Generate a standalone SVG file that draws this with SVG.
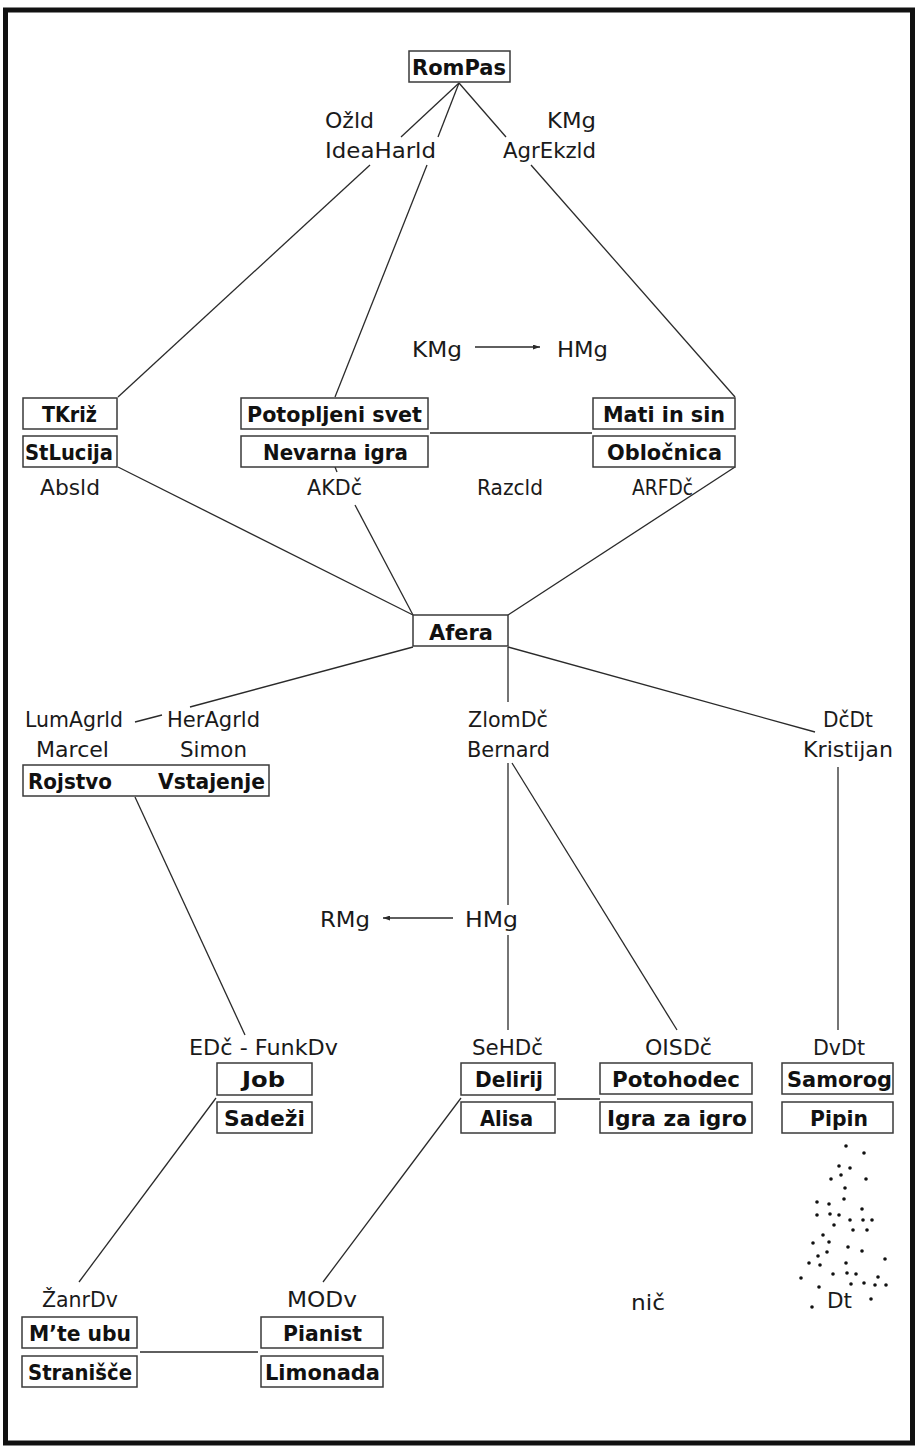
<svg xmlns="http://www.w3.org/2000/svg" width="917" height="1446" viewBox="0 0 917 1446">
<defs>
<style>
.frame{fill:#fff;stroke:#111;stroke-width:5}
.box{fill:#fff;stroke:#3a3a3a;stroke-width:1.5}
.b{font-family:"DejaVu Sans",sans-serif;font-weight:bold;font-size:22px;fill:#111}
.r{font-family:"DejaVu Sans",sans-serif;font-size:22px;fill:#1a1a1a}
.ln{stroke:#2a2a2a;stroke-width:1.3;fill:none}
.dot{fill:#111}
</style>
<marker id="ah" markerWidth="7" markerHeight="5" refX="7" refY="2.5" orient="auto" markerUnits="userSpaceOnUse">
<path d="M0,0 L7,2.5 L0,5 z" fill="#2a2a2a"/>
</marker>
</defs>
<rect class="frame" x="5.5" y="10" width="907" height="1433"/>

<g id="connectors">
<line class="ln" x1="459" y1="83" x2="401" y2="137"/>
<line class="ln" x1="370" y1="165" x2="118" y2="397"/>
<line class="ln" x1="459" y1="83" x2="438" y2="137"/>
<line class="ln" x1="427" y1="165" x2="335" y2="397"/>
<line class="ln" x1="459" y1="83" x2="506" y2="137"/>
<line class="ln" x1="531" y1="165" x2="735" y2="397"/>
<line class="ln" x1="430" y1="433" x2="592" y2="433"/>
<line class="ln" x1="118" y1="467" x2="413" y2="615"/>
<line class="ln" x1="335" y1="467" x2="337" y2="472"/>
<line class="ln" x1="355" y1="505" x2="413" y2="615"/>
<line class="ln" x1="735" y1="467" x2="508" y2="615"/>
<line class="ln" x1="475" y1="347" x2="540" y2="347" marker-end="url(#ah)"/>
<line class="ln" x1="413" y1="647" x2="190" y2="707"/>
<line class="ln" x1="162" y1="715" x2="135" y2="722"/>
<line class="ln" x1="508" y1="647" x2="508" y2="702"/>
<line class="ln" x1="508" y1="647" x2="815" y2="732"/>
<line class="ln" x1="135" y1="797" x2="245" y2="1035"/>
<line class="ln" x1="508" y1="763" x2="508" y2="905"/>
<line class="ln" x1="508" y1="935" x2="508" y2="1030"/>
<line class="ln" x1="453" y1="918" x2="383" y2="918" marker-end="url(#ah)"/>
<line class="ln" x1="512" y1="763" x2="677" y2="1030"/>
<line class="ln" x1="838" y1="767" x2="838" y2="1030"/>
<line class="ln" x1="216" y1="1098" x2="79" y2="1282"/>
<line class="ln" x1="461" y1="1098" x2="323" y2="1282"/>
<line class="ln" x1="557" y1="1099" x2="600" y2="1099"/>
<line class="ln" x1="834" y1="1129" x2="834" y2="1133"/>
<line class="ln" x1="140" y1="1352" x2="258" y2="1352"/>
</g>

<g id="node-rompas">
<rect class="box" x="409" y="51" width="101" height="31"/>
<text class="b" x="412" y="75" textLength="94" lengthAdjust="spacingAndGlyphs">RomPas</text>
</g>
<g id="label-ozld">
<text class="r" x="325" y="128" textLength="49" lengthAdjust="spacingAndGlyphs">Ožld</text>
<text class="r" x="325" y="158" textLength="111" lengthAdjust="spacingAndGlyphs">IdeaHarld</text>
</g>
<g id="label-kmg">
<text class="r" x="547" y="128" textLength="49" lengthAdjust="spacingAndGlyphs">KMg</text>
<text class="r" x="503" y="158" textLength="93" lengthAdjust="spacingAndGlyphs">AgrEkzld</text>
</g>
<g id="label-kmg-hmg">
<text class="r" x="412" y="357" textLength="50" lengthAdjust="spacingAndGlyphs">KMg</text>
<text class="r" x="557" y="357" textLength="51" lengthAdjust="spacingAndGlyphs">HMg</text>
</g>

<g id="node-tkriz">
<rect class="box" x="23" y="398" width="94" height="31"/>
<text class="b" x="42" y="422" textLength="55" lengthAdjust="spacingAndGlyphs">TKriž</text>
</g>
<g id="node-stlucija">
<rect class="box" x="23" y="436" width="94" height="31"/>
<text class="b" x="25" y="460" textLength="88" lengthAdjust="spacingAndGlyphs">StLucija</text>
<text class="r" x="40" y="495" textLength="60" lengthAdjust="spacingAndGlyphs">Absld</text>
</g>
<g id="node-potopljeni">
<rect class="box" x="241" y="398" width="187" height="31"/>
<text class="b" x="247" y="422" textLength="175" lengthAdjust="spacingAndGlyphs">Potopljeni svet</text>
</g>
<g id="node-nevarna">
<rect class="box" x="241" y="436" width="187" height="31"/>
<text class="b" x="263" y="460" textLength="145" lengthAdjust="spacingAndGlyphs">Nevarna igra</text>
<text class="r" x="307" y="495" textLength="55" lengthAdjust="spacingAndGlyphs">AKDč</text>
</g>
<g id="label-razcld">
<text class="r" x="477" y="495" textLength="66" lengthAdjust="spacingAndGlyphs">Razcld</text>
</g>
<g id="node-mati">
<rect class="box" x="593" y="398" width="142" height="31"/>
<text class="b" x="603" y="422" textLength="122" lengthAdjust="spacingAndGlyphs">Mati in sin</text>
</g>
<g id="node-oblocnica">
<rect class="box" x="593" y="436" width="142" height="31"/>
<text class="b" x="607" y="460" textLength="115" lengthAdjust="spacingAndGlyphs">Obločnica</text>
<text class="r" x="632" y="495" textLength="61" lengthAdjust="spacingAndGlyphs">ARFDč</text>
</g>

<g id="node-afera">
<rect class="box" x="413" y="615" width="95" height="31"/>
<text class="b" x="429" y="640" textLength="64" lengthAdjust="spacingAndGlyphs">Afera</text>
</g>

<g id="node-rojstvo">
<text class="r" x="25" y="727" textLength="98" lengthAdjust="spacingAndGlyphs">LumAgrld</text>
<text class="r" x="167" y="727" textLength="93" lengthAdjust="spacingAndGlyphs">HerAgrld</text>
<text class="r" x="36" y="757" textLength="73" lengthAdjust="spacingAndGlyphs">Marcel</text>
<text class="r" x="180" y="757" textLength="67" lengthAdjust="spacingAndGlyphs">Simon</text>
<rect class="box" x="23" y="765" width="246" height="31"/>
<text class="b" x="28" y="789" textLength="84" lengthAdjust="spacingAndGlyphs">Rojstvo</text>
<text class="b" x="158" y="789" textLength="107" lengthAdjust="spacingAndGlyphs">Vstajenje</text>
</g>
<g id="label-zlomdc">
<text class="r" x="468" y="727" textLength="80" lengthAdjust="spacingAndGlyphs">ZlomDč</text>
<text class="r" x="467" y="757" textLength="83" lengthAdjust="spacingAndGlyphs">Bernard</text>
</g>
<g id="label-dcdt">
<text class="r" x="823" y="727" textLength="50" lengthAdjust="spacingAndGlyphs">DčDt</text>
<text class="r" x="803" y="757" textLength="90" lengthAdjust="spacingAndGlyphs">Kristijan</text>
</g>
<g id="label-rmg-hmg">
<text class="r" x="320" y="927" textLength="50" lengthAdjust="spacingAndGlyphs">RMg</text>
<text class="r" x="465" y="927" textLength="53" lengthAdjust="spacingAndGlyphs">HMg</text>
</g>

<g id="node-job">
<text class="r" x="189" y="1055" textLength="149" lengthAdjust="spacingAndGlyphs">EDč - FunkDv</text>
<rect class="box" x="217" y="1063" width="95" height="32"/>
<text class="b" x="242" y="1087" textLength="43" lengthAdjust="spacingAndGlyphs">Job</text>
</g>
<g id="node-sadezi">
<rect class="box" x="217" y="1102" width="95" height="31"/>
<text class="b" x="224" y="1126" textLength="81" lengthAdjust="spacingAndGlyphs">Sadeži</text>
</g>
<g id="node-delirij">
<text class="r" x="472" y="1055" textLength="71" lengthAdjust="spacingAndGlyphs">SeHDč</text>
<rect class="box" x="461" y="1063" width="94" height="32"/>
<text class="b" x="475" y="1087" textLength="68" lengthAdjust="spacingAndGlyphs">Delirij</text>
</g>
<g id="node-alisa">
<rect class="box" x="461" y="1102" width="94" height="31"/>
<text class="b" x="480" y="1126" textLength="53" lengthAdjust="spacingAndGlyphs">Alisa</text>
</g>
<g id="node-potohodec">
<text class="r" x="645" y="1055" textLength="67" lengthAdjust="spacingAndGlyphs">OISDč</text>
<rect class="box" x="600" y="1063" width="152" height="31"/>
<text class="b" x="612" y="1087" textLength="128" lengthAdjust="spacingAndGlyphs">Potohodec</text>
</g>
<g id="node-igra">
<rect class="box" x="600" y="1102" width="152" height="31"/>
<text class="b" x="607" y="1126" textLength="140" lengthAdjust="spacingAndGlyphs">Igra za igro</text>
</g>
<g id="node-samorog">
<text class="r" x="813" y="1055" textLength="52" lengthAdjust="spacingAndGlyphs">DvDt</text>
<rect class="box" x="782" y="1063" width="111" height="31"/>
<text class="b" x="787" y="1087" textLength="105" lengthAdjust="spacingAndGlyphs">Samorog</text>
</g>
<g id="node-pipin">
<rect class="box" x="782" y="1102" width="111" height="31"/>
<text class="b" x="810" y="1126" textLength="58" lengthAdjust="spacingAndGlyphs">Pipin</text>
</g>

<g id="node-mteubu">
<text class="r" x="42" y="1307" textLength="76" lengthAdjust="spacingAndGlyphs">ŽanrDv</text>
<rect class="box" x="22" y="1317" width="115" height="31"/>
<text class="b" x="29" y="1341" textLength="102" lengthAdjust="spacingAndGlyphs">M’te ubu</text>
</g>
<g id="node-stranisce">
<rect class="box" x="22" y="1356" width="115" height="31"/>
<text class="b" x="28" y="1380" textLength="104" lengthAdjust="spacingAndGlyphs">Stranišče</text>
</g>
<g id="node-pianist">
<text class="r" x="287" y="1307" textLength="70" lengthAdjust="spacingAndGlyphs">MODv</text>
<rect class="box" x="261" y="1317" width="122" height="31"/>
<text class="b" x="283" y="1341" textLength="79" lengthAdjust="spacingAndGlyphs">Pianist</text>
</g>
<g id="node-limonada">
<rect class="box" x="261" y="1356" width="122" height="31"/>
<text class="b" x="265" y="1380" textLength="115" lengthAdjust="spacingAndGlyphs">Limonada</text>
</g>
<g id="label-nic">
<text class="r" x="631" y="1310" textLength="34" lengthAdjust="spacingAndGlyphs">nič</text>
</g>

<g id="node-dt">
<circle class="dot" cx="846" cy="1146" r="1.8"/>
<circle class="dot" cx="864" cy="1153" r="1.8"/>
<circle class="dot" cx="839" cy="1166" r="1.8"/>
<circle class="dot" cx="850" cy="1168" r="1.8"/>
<circle class="dot" cx="841" cy="1175" r="1.8"/>
<circle class="dot" cx="831" cy="1179" r="1.8"/>
<circle class="dot" cx="866" cy="1179" r="1.8"/>
<circle class="dot" cx="845" cy="1188" r="1.8"/>
<circle class="dot" cx="844" cy="1199" r="1.8"/>
<circle class="dot" cx="817" cy="1202" r="1.8"/>
<circle class="dot" cx="829" cy="1204" r="1.8"/>
<circle class="dot" cx="862" cy="1209" r="1.8"/>
<circle class="dot" cx="817" cy="1215" r="1.8"/>
<circle class="dot" cx="830" cy="1214" r="1.8"/>
<circle class="dot" cx="839" cy="1215" r="1.8"/>
<circle class="dot" cx="850" cy="1220" r="1.8"/>
<circle class="dot" cx="863" cy="1220" r="1.8"/>
<circle class="dot" cx="872" cy="1220" r="1.8"/>
<circle class="dot" cx="834" cy="1225" r="1.8"/>
<circle class="dot" cx="853" cy="1230" r="1.8"/>
<circle class="dot" cx="867" cy="1230" r="1.8"/>
<circle class="dot" cx="823" cy="1235" r="1.8"/>
<circle class="dot" cx="813" cy="1243" r="1.8"/>
<circle class="dot" cx="829" cy="1242" r="1.8"/>
<circle class="dot" cx="848" cy="1247" r="1.8"/>
<circle class="dot" cx="827" cy="1252" r="1.8"/>
<circle class="dot" cx="862" cy="1251" r="1.8"/>
<circle class="dot" cx="818" cy="1256" r="1.8"/>
<circle class="dot" cx="885" cy="1259" r="1.8"/>
<circle class="dot" cx="809" cy="1263" r="1.8"/>
<circle class="dot" cx="820" cy="1265" r="1.8"/>
<circle class="dot" cx="846" cy="1263" r="1.8"/>
<circle class="dot" cx="801" cy="1278" r="1.8"/>
<circle class="dot" cx="833" cy="1274" r="1.8"/>
<circle class="dot" cx="847" cy="1273" r="1.8"/>
<circle class="dot" cx="856" cy="1274" r="1.8"/>
<circle class="dot" cx="878" cy="1277" r="1.8"/>
<circle class="dot" cx="851" cy="1284" r="1.8"/>
<circle class="dot" cx="864" cy="1283" r="1.8"/>
<circle class="dot" cx="875" cy="1285" r="1.8"/>
<circle class="dot" cx="886" cy="1285" r="1.8"/>
<circle class="dot" cx="819" cy="1287" r="1.8"/>
<circle class="dot" cx="871" cy="1299" r="1.8"/>
<circle class="dot" cx="812" cy="1307" r="1.8"/>
<text class="r" x="827" y="1308" textLength="25" lengthAdjust="spacingAndGlyphs">Dt</text>
</g>
</svg>
